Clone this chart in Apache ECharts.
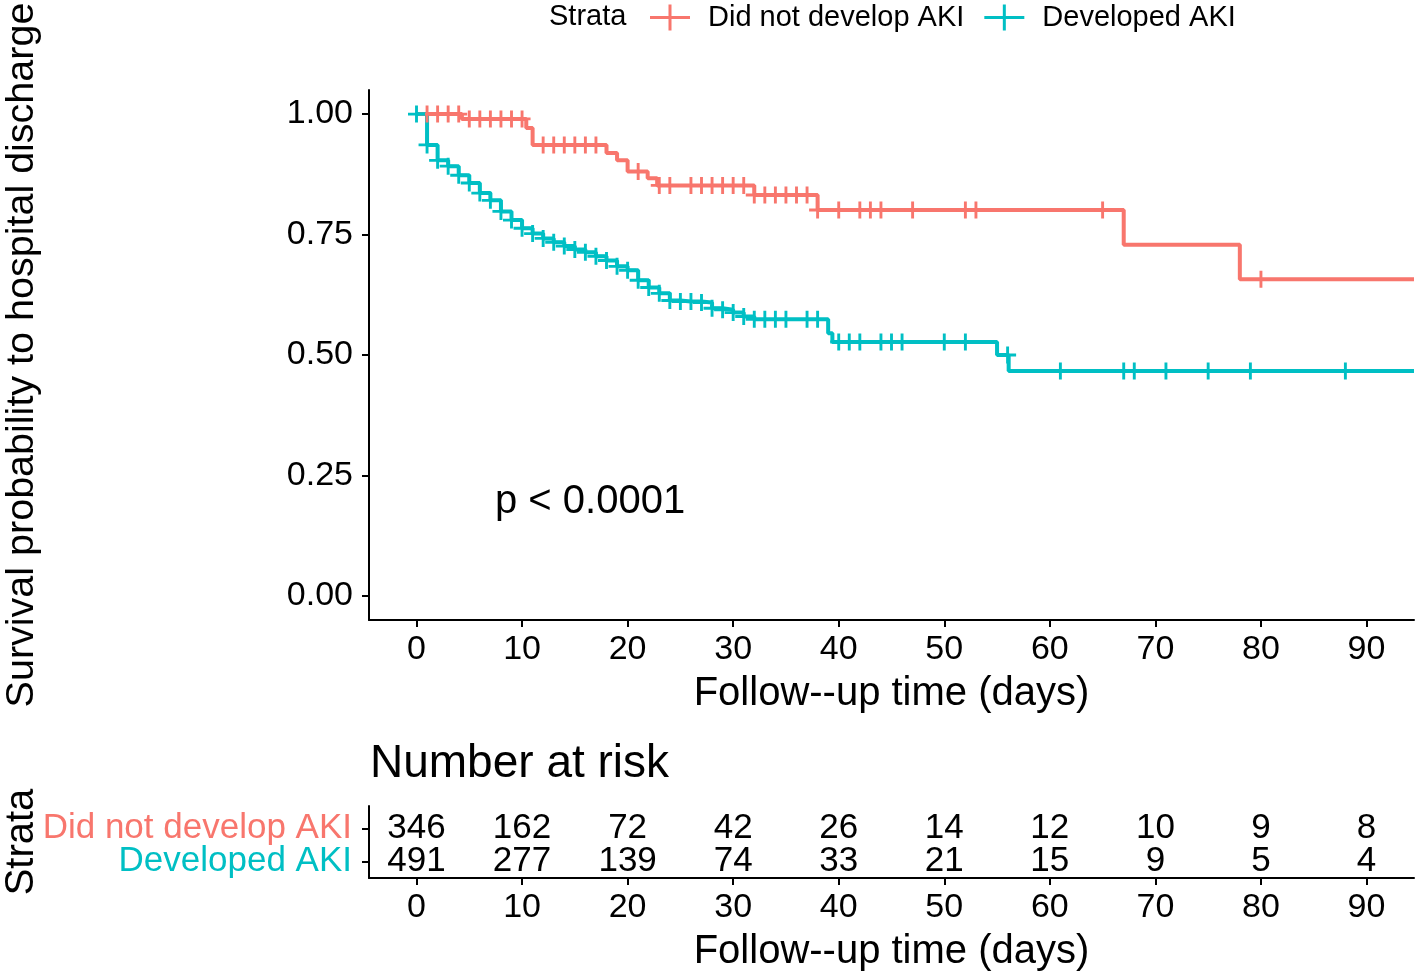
<!DOCTYPE html>
<html>
<head>
<meta charset="utf-8">
<script src="https://cdn.jsdelivr.net/npm/echarts@6/dist/echarts.min.js"></script>
<style>html,body{margin:0;padding:0;background:#fff}#c{width:1418px;height:976px}</style>
</head>
<body>
<div id="c"></div>
<script>
// ---- Data ----
const seriesNames = ['Did not develop AKI', 'Developed AKI'];
// Kaplan-Meier step curve: Did not develop AKI
const noAkiTime = [0, 4.3, 10.4, 11.0, 18.0, 19.0, 20.0, 21.9, 22.8, 32.0, 38.0, 67.0, 78.0, 94.5];
const noAkiSurv = [1.000, 0.990, 0.971, 0.936, 0.919, 0.904, 0.881, 0.867, 0.852, 0.832, 0.801, 0.729, 0.657, 0.657];
const noAkiCensor = [1, 2, 3, 4, 5, 6, 7, 8, 9, 10, 12, 13, 14, 15, 16, 17, 21, 23, 24, 26, 27, 28, 29, 30, 31,
  32, 33, 34, 35, 36, 37, 38, 40, 42, 43, 44, 47, 52, 53, 65, 80];
// Kaplan-Meier step curve: Developed AKI
const akiTime = [0, 1, 2, 3, 4, 5, 6, 7, 8, 9, 10, 11, 12, 13, 14, 15, 16, 17, 18, 19, 20, 21, 22, 23, 24, 25, 26, 27, 28, 29, 30, 31, 32, 39.0, 39.4, 55.0, 56.1, 94.5];
const akiSurv = [1.000, 0.936, 0.904, 0.892, 0.873, 0.857, 0.836, 0.821, 0.798, 0.780, 0.763, 0.752, 0.742, 0.734, 0.726, 0.719, 0.713, 0.705, 0.696, 0.684, 0.676, 0.655, 0.640, 0.628, 0.613, 0.611, 0.611, 0.609, 0.597, 0.594, 0.588, 0.580, 0.574, 0.545, 0.527, 0.500, 0.467, 0.467];
const akiCensor = [0, 1, 2, 3, 4, 5, 6, 7, 8, 9, 10, 11, 12, 13, 14, 15, 16, 17, 18, 19, 20, 21, 22, 23, 24, 25, 26, 27, 28, 29, 30, 31,
  32, 33, 34, 35, 37, 38, 40, 41, 42, 44, 45, 46, 50, 52, 56, 61, 67, 68, 71, 75, 79, 88];
// Risk table
const riskTimes = [0, 10, 20, 30, 40, 50, 60, 70, 80, 90];
const riskNoAki = [346, 162, 72, 42, 26, 14, 12, 10, 9, 8];
const riskAki = [491, 277, 139, 74, 33, 21, 15, 9, 5, 4];
// Ticks
const xTicks = [0, 10, 20, 30, 40, 50, 60, 70, 80, 90];
const yTicks = [0, 0.25, 0.5, 0.75, 1];
const pText = 'p < 0.0001';

// ---- Build ----
const RED = '#F8766D', TEAL = '#00BFC4';
const FF = 'Liberation Sans, Arial, Helvetica, sans-serif';
function survAt(times, surv, t) {
  let v = surv[0];
  for (let i = 0; i < times.length; i++) { if (t >= times[i]) v = surv[i]; }
  return v;
}
const stepData = (T, S) => T.map((t, i) => [t, S[i]]);
const censorData = (C, T, S) => C.map(t => [t, survAt(T, S, t)]);
const plusPath = 'path://M-0.17,-1H0.17V-0.17H1V0.17H0.17V1H-0.17V0.17H-1V-0.17H-0.17Z';
const legendIcon = 'path://M0,11.5H40V14.5H0Z M18.5,0H21.5V26H18.5Z';

const axisLineStyle = { color: '#000', width: 2 };
function xAxisDef(gi) {
  return {
    gridIndex: gi, type: 'value', min: -4.5, max: 94.5,
    axisLine: { onZero: false, lineStyle: axisLineStyle },
    axisTick: { customValues: xTicks, length: 7, lineStyle: axisLineStyle },
    axisLabel: { customValues: xTicks, fontSize: 34, color: '#000', margin: 13, fontFamily: FF },
    splitLine: { show: false },
    name: 'Follow--up time (days)', nameLocation: 'middle', nameGap: 54,
    nameTextStyle: { fontSize: 40, color: '#000', fontFamily: FF }
  };
}
const riskLabel = {
  show: true, position: 'inside', formatter: p => String(p.value[2]),
  fontSize: 35, color: '#000', fontFamily: FF, textBorderWidth: 0, opacity: 1
};
const strataColors = [RED, TEAL];
function strataLabelSeries(i) {
  return {
    name: 'strata-label-' + i, type: 'scatter', xAxisIndex: 1, yAxisIndex: 1, clip: false, silent: true,
    data: [[-4.5, 1 - i]],
    symbolSize: 0, itemStyle: { color: strataColors[i], opacity: 1 },
    label: {
      show: true, position: 'left', distance: 17, formatter: () => seriesNames[i],
      fontSize: 35, fontFamily: FF, color: strataColors[i], opacity: 1,
      textBorderWidth: 0, textBorderColor: 'transparent', textShadowBlur: 0
    },
    emphasis: { disabled: true }
  };
}

const option = {
  animation: false,
  backgroundColor: '#fff',
  textStyle: { fontFamily: FF },
  grid: [
    { left: 369, right: 4, top: 90, height: 530, outerBoundsMode: 'none', containLabel: false },
    { left: 369, right: 4, top: 806, height: 72, outerBoundsMode: 'none', containLabel: false }
  ],
  legend: {
    top: -2, left: 645, itemWidth: 40, itemHeight: 26, itemGap: 20,
    textStyle: { fontSize: 29, color: '#000', fontFamily: FF, padding: [0, 0, 0, 13] },
    data: [
      { name: seriesNames[0], icon: legendIcon },
      { name: seriesNames[1], icon: legendIcon }
    ]
  },
  graphic: [
    { type: 'text', left: 549, top: 2, style: { text: 'Strata', fontSize: 29, fill: '#000', fontFamily: FF } },
    { type: 'text', left: 495, top: 482, style: { text: pText, fontSize: 40, fill: '#000', fontFamily: FF } },
    { type: 'text', left: 370, top: 741, style: { text: 'Number at risk', fontSize: 46, fill: '#000', fontFamily: FF } }
  ],
  xAxis: [xAxisDef(0), xAxisDef(1)],
  yAxis: [
    {
      gridIndex: 0, type: 'value', min: -0.05, max: 1.05,
      axisLine: { show: true, onZero: false, lineStyle: axisLineStyle },
      axisTick: { show: true, customValues: yTicks, length: 7, lineStyle: axisLineStyle },
      axisLabel: { customValues: yTicks, fontSize: 34, color: '#000', margin: 16, fontFamily: FF, formatter: v => Number(v).toFixed(2) },
      splitLine: { show: false },
      name: 'Survival probability to hospital discharge', nameLocation: 'middle', nameGap: 327,
      nameTextStyle: { fontSize: 39.5, color: '#000', fontFamily: FF }
    },
    {
      gridIndex: 1, type: 'value', min: -0.49, max: 1.69,
      axisLine: { show: true, onZero: false, lineStyle: axisLineStyle },
      axisTick: { show: true, customValues: [0, 1], length: 7, lineStyle: axisLineStyle },
      axisLabel: { show: false },
      splitLine: { show: false },
      name: 'Strata', nameLocation: 'middle', nameGap: 327,
      nameTextStyle: { fontSize: 40, color: '#000', fontFamily: FF }
    }
  ],
  series: [
    {
      name: seriesNames[0], type: 'line', step: 'end', xAxisIndex: 0, yAxisIndex: 0,
      data: stepData(noAkiTime, noAkiSurv), showSymbol: false, symbol: 'none',
      lineStyle: { color: RED, width: 4 }, itemStyle: { color: RED }, z: 3
    },
    {
      name: seriesNames[1], type: 'line', step: 'end', xAxisIndex: 0, yAxisIndex: 0,
      data: stepData(akiTime, akiSurv), showSymbol: false, symbol: 'none',
      lineStyle: { color: TEAL, width: 4 }, itemStyle: { color: TEAL }, z: 3
    },
    {
      name: 'censor-noaki', type: 'scatter', xAxisIndex: 0, yAxisIndex: 0,
      data: censorData(noAkiCensor, noAkiTime, noAkiSurv), symbol: plusPath, symbolSize: 17,
      itemStyle: { color: RED, opacity: 1 }, z: 4
    },
    {
      name: 'censor-aki', type: 'scatter', xAxisIndex: 0, yAxisIndex: 0,
      data: censorData(akiCensor, akiTime, akiSurv), symbol: plusPath, symbolSize: 17,
      itemStyle: { color: TEAL, opacity: 1 }, z: 4
    },
    {
      name: 'risk-noaki', type: 'scatter', xAxisIndex: 1, yAxisIndex: 1,
      data: riskTimes.map((t, i) => [t, 1, riskNoAki[i]]), symbolSize: 0,
      itemStyle: { color: '#fff' }, label: riskLabel
    },
    {
      name: 'risk-aki', type: 'scatter', xAxisIndex: 1, yAxisIndex: 1,
      data: riskTimes.map((t, i) => [t, 0, riskAki[i]]), symbolSize: 0,
      itemStyle: { color: '#fff' }, label: riskLabel
    },
    strataLabelSeries(0),
    strataLabelSeries(1)
  ]
};
const chart = echarts.init(document.getElementById('c'), null, { renderer: 'canvas' });
chart.setOption(option);
</script>
</body>
</html>
